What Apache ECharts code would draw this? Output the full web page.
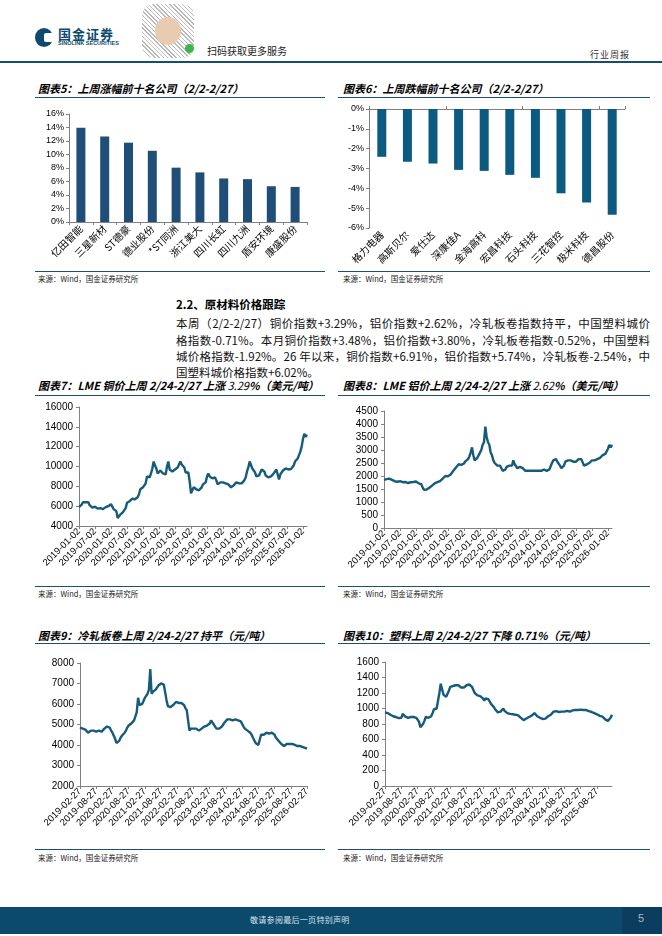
<!DOCTYPE html>
<html><head><meta charset="utf-8">
<script src="https://cdn.jsdelivr.net/npm/echarts@6/dist/echarts.min.js"></script>
<style>
body{margin:0;width:662px;height:936px;position:relative;background:#fff;font-family:"Noto Sans CJK SC",sans-serif;overflow:hidden;color:#000}
.abs{position:absolute;white-space:nowrap}
.title{position:absolute;font-size:11px;font-weight:bold;font-style:italic;white-space:nowrap;line-height:14px}
.hr{position:absolute;height:1px;background:#1c5070}
.src{position:absolute;font-size:7.5px;color:#222;line-height:10px;white-space:nowrap}
.chart{position:absolute}
.pl{position:absolute;left:176px;width:474px;font-size:11.5px;line-height:14px;white-space:nowrap;text-align:justify;text-align-last:justify;color:#111}
</style></head><body>

<!-- header -->
<div class="abs" style="left:35px;top:28px;width:18px;height:19px;border-radius:50%;background:#0d4a6e"></div>
<div class="abs" style="left:44px;top:33px;width:10px;height:9px;background:#fff;border-radius:2px"></div>
<div class="abs" style="left:58px;top:24px;font-size:13px;font-weight:bold;color:#0d4a6e;letter-spacing:1px">国金证券</div>
<div class="abs" style="left:58px;top:40px;font-size:5.5px;font-weight:bold;color:#0d4a6e;font-family:'Liberation Sans'">SINOLINK SECURITIES</div>
<div class="abs" style="left:142px;top:4px;width:52px;height:54px;border-radius:12px;background:repeating-linear-gradient(45deg,#bbb 0 1px,#fff 1px 3px),repeating-linear-gradient(-45deg,#999 0 1px,transparent 1px 4px)"></div>
<div class="abs" style="left:155px;top:17px;width:26px;height:28px;border-radius:50%;background:#e8cbb0"></div>
<div class="abs" style="left:185px;top:44px;width:9px;height:9px;border-radius:50%;background:#3cb54a"></div>
<div class="abs" style="left:207px;top:43px;font-size:10px;color:#222">扫码获取更多服务</div>
<div class="abs" style="left:590px;top:48px;font-size:9px;color:#333;letter-spacing:1px">行业周报</div>
<div class="abs" style="left:0;top:61px;width:662px;height:1.5px;background:#1a4d68"></div>

<!-- chart 5 / 6 titles -->
<div class="title" style="left:38px;top:81px">图表5：上周涨幅前十名公司（2/2-2/27）</div>
<div class="hr" style="left:35px;top:97px;width:290px"></div>
<div class="title" style="left:343px;top:81px">图表6：上周跌幅前十名公司（2/2-2/27）</div>
<div class="hr" style="left:338px;top:97px;width:312px"></div>
<div id="c5" class="chart" style="left:20px;top:98px;width:310px;height:172px"></div>
<div id="c6" class="chart" style="left:330px;top:98px;width:320px;height:172px"></div>
<div class="hr" style="left:35px;top:271px;width:290px"></div>
<div class="hr" style="left:338px;top:271px;width:312px"></div>
<div class="src" style="left:38px;top:274px">来源：Wind，国金证券研究所</div>
<div class="src" style="left:343px;top:274px">来源：Wind，国金证券研究所</div>

<!-- text -->
<div class="abs" style="left:176px;top:296px;font-size:11.5px;font-weight:bold">2.2、原材料价格跟踪</div>
<div class="pl" style="top:316px">本周（2/2-2/27）铜价指数+3.29%，铝价指数+2.62%，冷轧板卷指数持平，中国塑料城价</div>
<div class="pl" style="top:332.5px">格指数-0.71%。本月铜价指数+3.48%，铝价指数+3.80%，冷轧板卷指数-0.52%，中国塑料</div>
<div class="pl" style="top:349px">城价格指数-1.92%。26 年以来，铜价指数+6.91%，铝价指数+5.74%，冷轧板卷-2.54%，中</div>
<div class="pl" style="top:365px;text-align-last:left;text-align:left">国塑料城价格指数+6.02%。</div>

<!-- chart 7 / 8 -->
<div class="title" style="left:38px;top:378px">图表7：LME 铜价上周 2/24-2/27 上涨 <span style="font-weight:normal">3.29</span>%（美元/吨）</div>
<div class="hr" style="left:35px;top:395px;width:290px"></div>
<div class="title" style="left:343px;top:378px">图表8：LME 铝价上周 2/24-2/27 上涨 <span style="font-weight:normal">2.62</span>%（美元/吨）</div>
<div class="hr" style="left:338px;top:395px;width:312px"></div>
<div id="c7" class="chart" style="left:20px;top:398px;width:310px;height:185px"></div>
<div id="c8" class="chart" style="left:330px;top:398px;width:320px;height:185px"></div>
<div class="hr" style="left:35px;top:586px;width:290px"></div>
<div class="hr" style="left:338px;top:586px;width:312px"></div>
<div class="src" style="left:38px;top:589px">来源：Wind，国金证券研究所</div>
<div class="src" style="left:343px;top:589px">来源：Wind，国金证券研究所</div>

<!-- chart 9 / 10 -->
<div class="title" style="left:38px;top:628px">图表9：冷轧板卷上周 2/24-2/27 持平（元/吨）</div>
<div class="hr" style="left:35px;top:643px;width:290px"></div>
<div class="title" style="left:343px;top:628px">图表10：塑料上周 2/24-2/27 下降 0.71%（元/吨）</div>
<div class="hr" style="left:338px;top:643px;width:312px"></div>
<div id="c9" class="chart" style="left:20px;top:648px;width:310px;height:182px"></div>
<div id="c10" class="chart" style="left:330px;top:648px;width:320px;height:182px"></div>
<div class="hr" style="left:35px;top:849px;width:290px"></div>
<div class="hr" style="left:338px;top:849px;width:312px"></div>
<div class="src" style="left:38px;top:853px">来源：Wind，国金证券研究所</div>
<div class="src" style="left:343px;top:853px">来源：Wind，国金证券研究所</div>

<!-- footer -->
<div class="abs" style="left:0;top:907px;width:662px;height:27px;background:#0c4a6c"></div>
<div class="abs" style="left:622px;top:907px;width:40px;height:27px;background:#0a3d5e"></div>
<div class="abs" style="left:250px;top:914px;font-size:8px;color:#d5e3ec;letter-spacing:0.3px">敬请参阅最后一页特别声明</div>
<div class="abs" style="left:638px;top:912px;font-size:11px;color:#a9b8c8;font-family:'Liberation Sans'">5</div>

<script>
// ---- data ----
const gainNames = ['亿田智能','三星新材','ST德豪','德业股份','*ST同洲','浙江美大','四川长虹','四川九洲','盾安环境','康盛股份'];
const gainValues = [13.95, 12.65, 11.75, 10.55, 8.05, 7.35, 6.45, 6.35, 5.3, 5.2];
const lossNames = ['格力电器','高斯贝尔','爱仕达','深康佳A','金海高科','宏昌科技','石头科技','三花智控','极米科技','德昌股份'];
const lossValues = [-2.41, -2.66, -2.75, -3.07, -3.12, -3.32, -3.47, -4.25, -4.71, -5.33];

const copperPrices = [
 5900,5950,6150,6400,6450,6400,6450,6400,6100,6000,5850,5950,5950,6000,5750,5700,5800,5800,5700,5800,5900,5850,6000,6150,
 6200,6000,5700,5750,5500,4800,5000,5150,5200,5400,5600,5800,6350,6400,6500,6700,6750,6600,6700,6800,6900,7200,7700,7900,
 7900,8000,8300,9000,9000,8900,9300,9800,10500,10100,9800,9300,9500,9600,9600,9300,9400,9200,10000,10500,9700,9500,9500,9600,
 9700,9900,9900,10000,10500,10200,10300,9900,9400,9300,9400,8500,7300,7500,7900,8000,7700,7700,7600,7600,7900,8200,8400,8400,
 9000,9300,9000,8900,8800,8900,8900,8600,8200,8200,8400,8500,8400,8500,8300,8300,8200,8200,7900,8000,8100,8300,8400,8400,
 8300,8400,8300,8400,8600,8900,9500,9900,10500,10400,9800,9600,9400,9000,8900,9100,9300,9700,9800,9500,9100,9000,8900,8800,
 9000,9200,9300,9400,9700,9900,8700,9200,9400,9600,9700,9800,9800,9700,9700,9750,9900,10100,10500,10600,10800,10900,11500,12000,
 12800,13300,13000,13200];
const aluminiumPrices = [
 1850,1870,1880,1870,1900,1880,1850,1820,1800,1780,1780,1790,1800,1790,1760,1750,1770,1780,1730,1740,1760,1760,1770,1780,
 1790,1790,1720,1700,1690,1550,1470,1460,1480,1500,1550,1590,1630,1680,1720,1740,1760,1780,1800,1840,1900,1960,2000,2020,
 1990,2000,2060,2100,2200,2250,2330,2400,2450,2400,2430,2470,2480,2560,2600,2650,2750,2900,3100,2800,2600,2650,2700,2750,
 2900,3000,3200,3300,3900,3500,3300,3200,2900,2800,2600,2500,2450,2400,2450,2400,2300,2200,2200,2250,2350,2400,2400,2350,
 2400,2600,2450,2400,2300,2350,2350,2400,2300,2250,2200,2200,2200,2250,2200,2150,2200,2250,2200,2200,2200,2250,2200,2250,
 2250,2200,2200,2200,2250,2300,2500,2600,2600,2650,2550,2500,2400,2300,2250,2400,2550,2600,2600,2650,2600,2600,2550,2550,
 2550,2600,2650,2700,2650,2600,2400,2350,2450,2450,2500,2550,2600,2600,2600,2600,2650,2650,2700,2750,2800,2850,2850,2900,
 3050,3200,3100,3200];
const steelPrices = [
 4850,4850,4800,4800,4750,4700,4600,4650,4700,4700,4700,4700,4650,
 4650,4700,4700,4650,4700,4800,4850,4900,4900,4850,4700,4600,
 4550,4300,4100,4080,4200,4350,4450,4500,4600,4700,4850,4950,
 5000,5050,5100,5200,5400,5600,6300,5950,5900,6000,6150,6300,
 6400,6500,6700,7700,6500,6600,6600,6700,6800,6900,6900,7000,
 7000,6950,7000,6200,5900,5900,5850,5900,5950,5900,6100,6050,
 6050,6100,6050,6000,5950,5800,5700,5200,4700,4800,4750,4800,
 4750,4800,4750,4700,4750,4800,4850,4900,4900,4950,5000,5050,
 5200,5150,5000,4900,4800,4850,4800,4850,4900,5000,5100,5150,
 5250,5300,5250,5200,5200,5200,5250,5200,5200,5200,5150,5100,
 4900,4800,4750,4700,4650,4600,4500,4350,4300,4100,4050,4000,
 3950,4500,4550,4500,4550,4600,4600,4550,4600,4600,4550,4500,
 4350,4300,4200,4150,4050,4000,3950,3900,4050,4100,4050,4000,
 4050,4000,4000,4000,3950,4000,3950,3950,3900,3850,3850,3820];
const plasticPrices = [
 950,950,940,930,920,910,900,895,890,880,875,870,880,
 930,910,895,885,880,885,890,890,890,885,880,870,
 830,760,775,800,840,890,900,880,870,900,940,990,
 1000,1000,1100,1200,1320,1250,1180,1160,1150,1190,1230,1280,
 1270,1290,1300,1300,1290,1300,1290,1270,1260,1270,1280,1300,
 1300,1310,1320,1280,1240,1200,1180,1170,1150,1160,1150,1130,
 1100,1130,1150,1120,1090,1060,1050,1020,990,970,950,950,
 960,980,1000,970,950,940,935,930,930,925,925,920,
 920,910,900,880,860,850,855,870,880,890,885,910,
 930,940,920,900,890,880,870,865,860,870,880,900,
 910,920,940,960,970,965,960,955,960,960,965,960,
 965,970,970,960,970,975,975,980,980,980,980,985,
 980,980,975,980,970,965,960,955,950,940,935,925,
 915,905,900,895,880,860,845,840,850,880,920];

// category dates (two samples per month)
function halfMonthDates(y, m, d1, d2, second, n) {
  const out = [];
  while (out.length < n) {
    out.push(y + '-' + String(m).padStart(2, '0') + '-' + (second ? d2 : d1));
    if (second) { second = false; m++; if (m > 12) { m = 1; y++; } } else second = true;
  }
  return out;
}
const metalDates = halfMonthDates(2019, 1, '02', '16', false, copperPrices.length);
const steelDates = halfMonthDates(2019, 2, '12', '27', true, steelPrices.length);
const plasticDates = steelDates.slice(0, plasticPrices.length);

// ---- charts ----
const NUMF = 'Liberation Sans';
const CJKF = 'Noto Sans CJK SC';
const AX = '#808080';

function barOpt(names, vals, grid, yMin, yMax, yInt, color, barW, neg) {
  const xAxes = [{
    type: 'category', data: names, position: 'bottom',
    axisLine: { show: !neg, onZero: false, lineStyle: { color: AX } },
    axisTick: { show: !neg, length: 3, lineStyle: { color: AX } },
    axisLabel: { rotate: 45, interval: 0, fontSize: 10, color: '#000', fontFamily: CJKF, margin: 5 }
  }];
  if (neg) xAxes.push({
    type: 'category', data: names, position: 'top',
    axisLine: { show: true, lineStyle: { color: AX } },
    axisTick: { show: true, length: 3, lineStyle: { color: AX } },
    axisLabel: { show: false }
  });
  return {
    animation: false,
    grid: grid,
    xAxis: xAxes,
    yAxis: {
      type: 'value', min: yMin, max: yMax, interval: yInt,
      axisLine: { show: true, lineStyle: { color: AX } },
      axisTick: { show: true, length: 3, lineStyle: { color: AX } },
      splitLine: { show: false },
      axisLabel: { formatter: '{value}%', fontSize: 9, color: '#000', fontFamily: NUMF, margin: 5 }
    },
    series: [{ type: 'bar', data: vals, barWidth: barW, itemStyle: { color: color } }]
  };
}

function lineOpt(cats, vals, grid, yMin, yMax, yInt) {
  return {
    animation: false,
    grid: grid,
    xAxis: {
      type: 'category', data: cats, boundaryGap: false,
      axisLine: { show: true, onZero: false, lineStyle: { color: AX } },
      axisTick: { show: true, interval: 11, length: 3, lineStyle: { color: AX } },
      axisLabel: { rotate: 45, interval: 11, fontSize: 9.5, color: '#000', fontFamily: NUMF, margin: 4 }
    },
    yAxis: {
      type: 'value', min: yMin, max: yMax, interval: yInt,
      axisLine: { show: true, lineStyle: { color: AX } },
      axisTick: { show: true, length: 3, lineStyle: { color: AX } },
      splitLine: { show: false },
      axisLabel: { formatter: function (v) { return String(v); }, fontSize: 10, color: '#000', fontFamily: NUMF, margin: 6 }
    },
    series: [{ type: 'line', data: vals, symbol: 'none', lineStyle: { width: 2.4, color: '#165a7c' } }]
  };
}

echarts.init(document.getElementById('c5')).setOption(
  barOpt(gainNames, gainValues, { left: 49, top: 16, width: 238, height: 108 }, 0, 16, 2, '#1f4e79', 9, false));
echarts.init(document.getElementById('c6')).setOption(
  barOpt(lossNames, lossValues, { left: 39, top: 11, width: 256, height: 119 }, -6, 0, 1, '#0c5a80', 9, true));
echarts.init(document.getElementById('c7')).setOption(
  lineOpt(metalDates, copperPrices, { left: 59, top: 9, width: 228, height: 119 }, 4000, 16000, 2000));
echarts.init(document.getElementById('c8')).setOption(
  lineOpt(metalDates, aluminiumPrices, { left: 54, top: 13, width: 228, height: 117 }, 0, 4500, 500));
echarts.init(document.getElementById('c9')).setOption(
  lineOpt(steelDates, steelPrices, { left: 60, top: 15, width: 227, height: 125 }, 2000, 8000, 1000));
echarts.init(document.getElementById('c10')).setOption(
  lineOpt(plasticDates, plasticPrices, { left: 55, top: 14, width: 227, height: 125 }, 0, 1600, 200));
</script>
</body></html>
